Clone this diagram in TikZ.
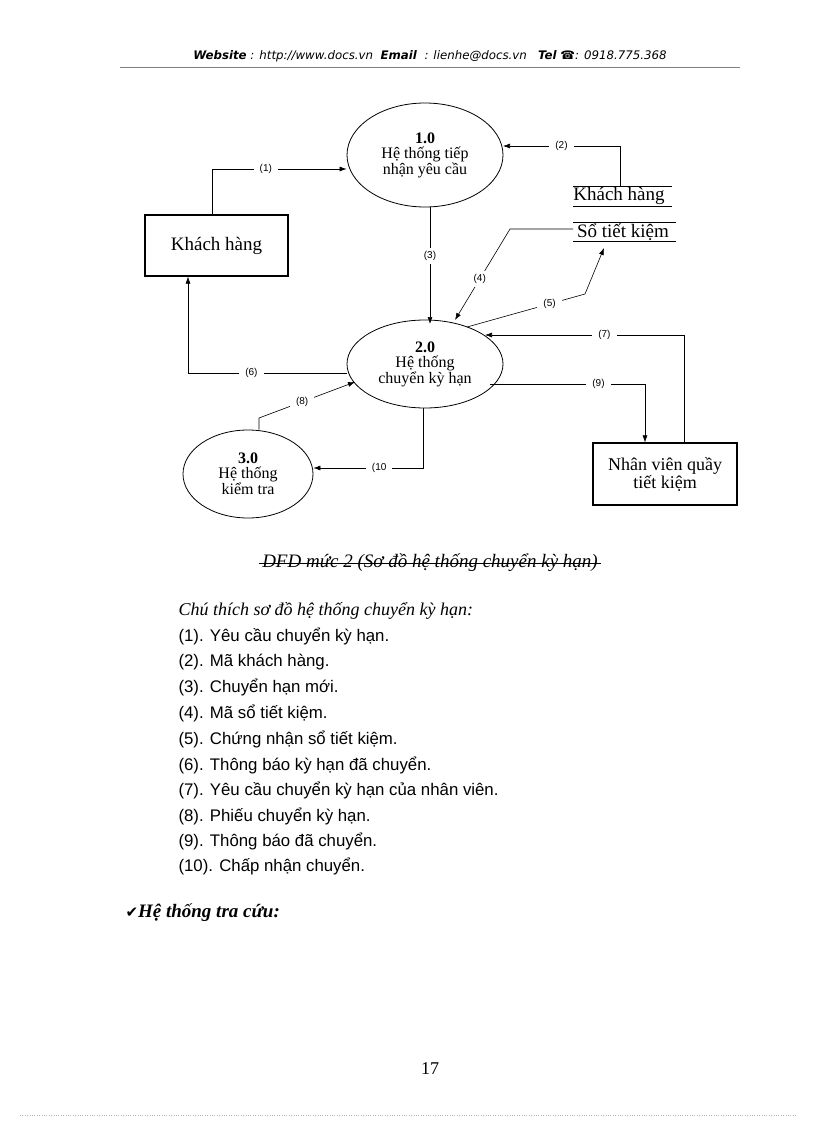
\documentclass[tikz,border=0pt]{standalone}
\usepackage{fontspec}
\setmainfont{Liberation Serif}
\newfontfamily\lsans{Liberation Sans}
\newfontfamily\dsans{DejaVu Sans}
\usetikzlibrary{shapes.geometric,arrows.meta}
\begin{document}
\begin{tikzpicture}[x=1pt,y=-1pt,
  proc/.style={ellipse,draw,thick,minimum width=156,minimum height=104,align=center,font=\fontsize{16}{15}\selectfont,inner sep=0},
  ent/.style={draw,line width=1.2pt,align=center,font=\fontsize{18}{18}\selectfont,inner sep=0},
  flow/.style={-{Latex[length=7pt,width=5pt]},line width=0.6pt},
  lab/.style={fill=white,inner xsep=6pt,font=\lsans\fontsize{10}{10}\selectfont},
  leg/.style={anchor=base west,font=\lsans\fontsize{16.8}{18}\selectfont}]
\useasboundingbox (0,0) rectangle (816,1123);
\fill[white] (0,0) rectangle (816,1123);
% header
\node[anchor=base,font=\dsans\itshape\fontsize{11.8}{11}\selectfont] (hdr) at (430,60) {\textbf{Website} : http://www.docs.vn \ \textbf{Email} \ : lienhe@docs.vn \ \ \textbf{Tel} {\dsans ☎}: 0918.775.368};
\draw[gray,line width=0.6pt] (120,67) -- (740,67);
% nodes
\node[proc] (p1) at (425,155) {\textbf{1.0}\\Hệ thống tiếp\\nhận yêu cầu};
\node[proc,minimum height=88] (p2) at (425,364) {\textbf{2.0}\\Hệ thống\\chuyển kỳ hạn};
\node[proc,minimum width=130,minimum height=88] (p3) at (248,474) {\textbf{3.0}\\Hệ thống\\kiểm tra};
\node[ent,minimum width=143,minimum height=61,font=\fontsize{19}{19}\selectfont] (kh) at (216.5,245.5) {Khách hàng};
\node[ent,minimum width=144,minimum height=62] (nv) at (665,474) {Nhân viên quầy\\tiết kiệm};
% stores
\node[font=\fontsize{19}{19}\selectfont] (s1) at (619,196) {Khách hàng};
\draw (573,186) -- (672,186) (573,206) -- (672,206);
\node[font=\fontsize{19}{19}\selectfont] (s2) at (623,232) {Sổ tiết kiệm};
\draw (573,222) -- (676,222) (573,241) -- (676,241);
\coordinate (s1t) at (620,186);
\coordinate (s2l) at (573,229);
% flows
\draw[flow] (kh.north -| 212,0) |- (p1.west |- 0,169) node[lab,pos=0.7] {(1)};
\draw[flow] (s1t) |- (503,146) node[lab,pos=0.75] {(2)};
\draw[flow] (430,207) -- (430,324) node[lab,pos=0.42] {(3)};
\draw[flow] (s2l) -- (510,229) -- (455,320) node[lab,pos=0.55] {(4)};
\draw[flow] (467,327) -- (585,294) node[lab,pos=0.7] {(5)} -- (604,248);
\draw[flow] (nv.north -| 684,0) |- (485,335) node[lab,pos=0.7] {(7)};
\draw[flow] (490,384) -| (nv.north -| 645,0) node[lab,pos=0.35] {(9)};
\draw[flow] (p2.west |- 0,373) -| (kh.south -| 188,0) node[lab,pos=0.3] {(6)};
\draw[flow] (p3.north -| 259,0) -- (259,418) -- (355,382) node[lab,pos=0.45] {(8)};
\draw[flow] (p2.south -| 423,0) |- (p3.east |- 0,468) node[lab,pos=0.7] {(10};
% caption
\node[anchor=base,font=\itshape\fontsize{19}{19}\selectfont] (cap) at (430,567) {DFD mức 2 (Sơ đồ hệ thống chuyển kỳ hạn)};
\draw[line width=0.5pt] ([yshift=4pt]cap.base west) -- ([yshift=4pt]cap.base east);
% legend
\node[leg,font=\itshape\fontsize{18}{18}\selectfont] (lg) at (175,615) {Chú thích sơ đồ hệ thống chuyển kỳ hạn:};
\node[leg] (l1) at (175,641) {(1). Yêu cầu chuyển kỳ hạn.};
\node[leg] (l2) at (175,666.5) {(2). Mã khách hàng.};
\node[leg] (l3) at (175,692) {(3). Chuyển hạn mới.};
\node[leg] (l4) at (175,718) {(4). Mã sổ tiết kiệm.};
\node[leg] (l5) at (175,744) {(5). Chứng nhận sổ tiết kiệm.};
\node[leg] (l6) at (175,770) {(6). Thông báo kỳ hạn đã chuyển.};
\node[leg] (l7) at (175,795) {(7). Yêu cầu chuyển kỳ hạn của nhân viên.};
\node[leg] (l8) at (175,821) {(8). Phiếu chuyển kỳ hạn.};
\node[leg] (l9) at (175,846) {(9). Thông báo đã chuyển.};
\node[leg] (l10) at (175,871) {(10). Chấp nhận chuyển.};
\node[leg,font=\bfseries\itshape\fontsize{19}{19}\selectfont] (ht) at (122,917) {{\dsans\fontsize{15}{15}\selectfont ✔}Hệ thống tra cứu:};
\node[anchor=base,font=\fontsize{18}{18}\selectfont] (pg) at (430,1074) {17};
\draw[gray!60,dotted] (20,1115) -- (796,1115);
\end{tikzpicture}
\end{document}
